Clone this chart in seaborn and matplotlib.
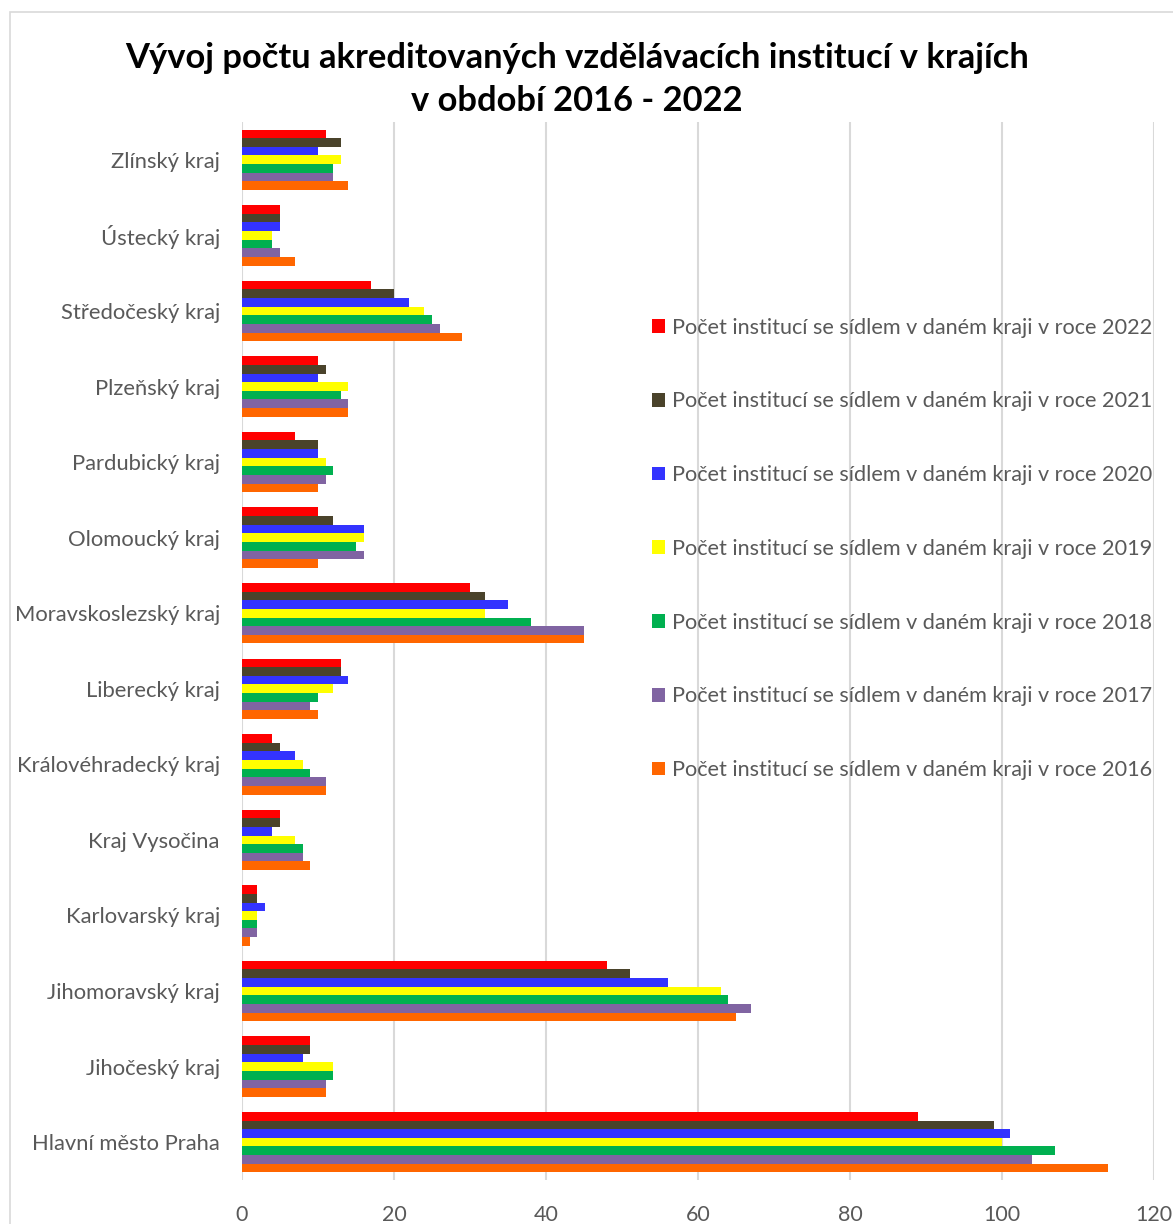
import pandas as pd
import seaborn as sns
import matplotlib.pyplot as plt
from matplotlib.patches import Rectangle

sns.set_theme(style="white")
plt.rcParams['font.family'] = ['Lato', 'DejaVu Sans']

# regions, top to bottom as shown
kraje = ['Zlínský kraj', 'Ústecký kraj', 'Středočeský kraj', 'Plzeňský kraj',
         'Pardubický kraj', 'Olomoucký kraj', 'Moravskoslezský kraj',
         'Liberecký kraj', 'Královéhradecký kraj', 'Kraj Vysočina',
         'Karlovarský kraj', 'Jihomoravský kraj', 'Jihočeský kraj',
         'Hlavní město Praha']

r2022 = [11, 5, 17, 10, 7, 10, 30, 13, 4, 5, 2, 48, 9, 89]
r2021 = [13, 5, 20, 11, 10, 12, 32, 13, 5, 5, 2, 51, 9, 99]
r2020 = [10, 5, 22, 10, 10, 16, 35, 14, 7, 4, 3, 56, 8, 101]
r2019 = [13, 4, 24, 14, 11, 16, 32, 12, 8, 7, 2, 63, 12, 100]
r2018 = [12, 4, 25, 13, 12, 15, 38, 10, 9, 8, 2, 64, 12, 107]
r2017 = [12, 5, 26, 14, 11, 16, 45, 9, 11, 8, 2, 67, 11, 104]
r2016 = [14, 7, 29, 14, 10, 10, 45, 10, 11, 9, 1, 65, 11, 114]

roky = ['2022', '2021', '2020', '2019', '2018', '2017', '2016']
barvy = ['#FF0000', '#4A432B', '#3333FF', '#FFFF00', '#00B050', '#8064A2', '#FF6600']

series = [r2022, r2021, r2020, r2019, r2018, r2017, r2016]
rows = []
for rok, vals in zip(roky, series):
    label = 'Počet institucí se sídlem v daném kraji v roce ' + rok
    for k, v in zip(kraje, vals):
        rows.append((k, label, v))
df = pd.DataFrame(rows, columns=['kraj', 'serie', 'pocet'])
hue_order = ['Počet institucí se sídlem v daném kraji v roce ' + r for r in roky]

fig = plt.figure(figsize=(11.73, 12.24), dpi=100)
ax = fig.add_axes([0.2063, 0.036, 0.7775, 0.8643])

sns.barplot(data=df, x='pocet', y='kraj', hue='serie', order=kraje,
            hue_order=hue_order, palette=barvy, orient='h', width=0.8,
            saturation=1, linewidth=0, ax=ax)

gray = '#595959'
ax.set_xlim(0, 120)
ax.set_xticks(range(0, 121, 20))
ax.xaxis.grid(True, color='#D9D9D9', linewidth=1.5)
ax.set_axisbelow(True)
for s in ax.spines.values():
    s.set_visible(False)
ax.set_xlabel('')
ax.set_ylabel('')
ax.tick_params(axis='x', colors=gray, labelsize=15.5, length=0, pad=18)
ax.tick_params(axis='y', colors=gray, labelsize=15.8, length=0, pad=16)

leg = ax.legend(loc='upper left', bbox_to_anchor=(0.5485, 0.7475),
                bbox_transform=fig.transFigure,
                frameon=False, fontsize=15.6, handlelength=0.6, handleheight=0.6,
                handletextpad=0.3, labelspacing=2.48, borderaxespad=0)
for t in leg.get_texts():
    t.set_color(gray)

fig.suptitle('Vývoj počtu akreditovaných vzdělávacích institucí v krajích\nv období 2016 - 2022',
             x=0.492, y=0.966, fontsize=24.8, fontweight='bold', color='black',
             linespacing=1.45)

fig.patches.append(Rectangle((10 / 1173, -0.01), 1.0, 1 - 12 / 1224 + 0.01,
                             transform=fig.transFigure, fill=False,
                             edgecolor='#D9D9D9', linewidth=1.2))

fig.savefig('out.png', dpi=100)
